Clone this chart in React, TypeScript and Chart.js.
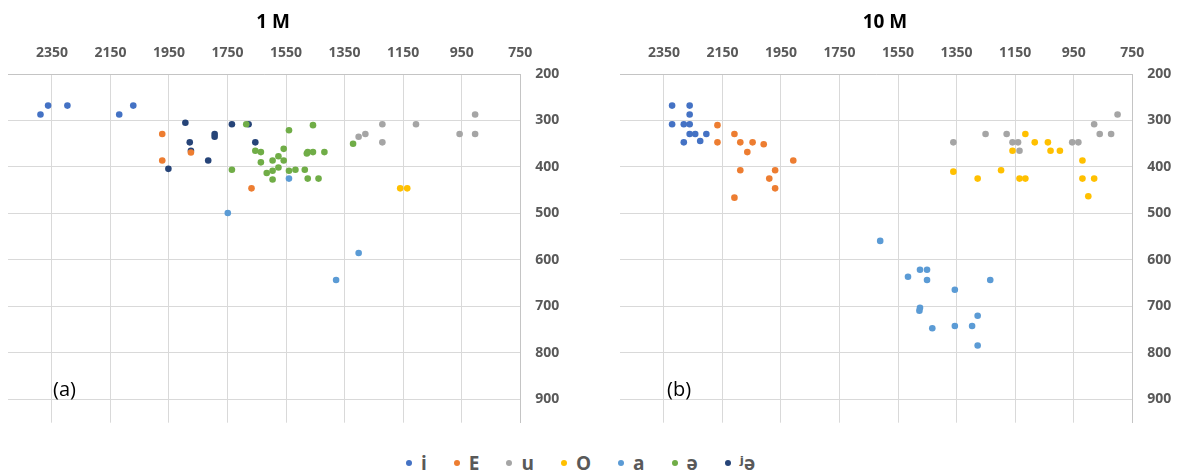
import React, { useEffect, useRef } from "react";
import { Chart, registerables } from "chart.js";

Chart.register(...registerables);

// ---- Legend / series ----
const seriesNames = ["i", "E", "u", "O", "a", "ə", "ʲə"];
const seriesColors = ["#4472C4", "#ED7D31", "#A5A5A5", "#FFC000", "#5B9BD5", "#70AD47", "#264478"];

// ---- Axis ticks ----
const xTickValues = [750, 950, 1150, 1350, 1550, 1750, 1950, 2150, 2350];
const yTickValues = [200, 300, 400, 500, 600, 700, 800, 900];
const xMin = 750;
const xMax = 2500;
const yMin = 200;
const yMax = 950;

// ---- 1 M : [F2, F1] ----
const m1_i = [[2389, 287], [2363, 268], [2297, 268], [2120, 287], [2072, 268]];
const m1_E = [[1973, 329], [1973, 386], [1875, 369], [1668, 446]];
const m1_u = [[904, 287], [1221, 308], [1106, 308], [957, 329], [904, 329], [1302, 335], [1279, 329], [1221, 347]];
const m1_O = [[1160, 446], [1136, 446]];
const m1_a = [[1749, 499], [1540, 425], [1302, 585], [1379, 643]];
const m1_schwa = [
  [1686, 308], [1458, 310], [1540, 321], [1655, 365], [1636, 368], [1558, 361], [1596, 386], [1576, 377],
  [1558, 386], [1636, 390], [1476, 368], [1458, 368], [1419, 368], [1479, 371], [1735, 406], [1616, 413],
  [1596, 408], [1576, 401], [1540, 408], [1518, 406], [1486, 406], [1596, 427], [1476, 425], [1439, 425],
  [1321, 350],
];
const m1_jschwa = [[1894, 305], [1735, 308], [1678, 308], [1794, 329], [1794, 335], [1879, 347], [1875, 365], [1655, 347], [1816, 386], [1952, 404]];

// ---- 10 M : [F2, F1] ----
const m10_i = [[2322, 268], [2262, 268], [2262, 287], [2322, 308], [2282, 308], [2262, 308], [2262, 329], [2243, 329], [2205, 329], [2282, 347], [2226, 344]];
const m10_E = [[2167, 310], [2167, 347], [2109, 329], [2089, 347], [2047, 347], [2009, 351], [2065, 368], [1908, 386], [2089, 407], [1970, 407], [1990, 425], [1970, 446], [2109, 466]];
const m10_u = [[800, 287], [880, 308], [861, 329], [822, 329], [1251, 329], [1179, 329], [1361, 347], [1159, 347], [1140, 347], [1135, 365], [955, 347], [934, 347]];
const m10_O = [[1115, 329], [1083, 347], [1038, 347], [1159, 365], [1029, 365], [997, 365], [920, 386], [1361, 410], [1278, 425], [1198, 407], [1135, 425], [1115, 425], [920, 425], [880, 425], [900, 463]];
const m10_a = [[1611, 559], [1475, 621], [1451, 621], [1516, 636], [1451, 643], [1235, 643], [1356, 664], [1475, 703], [1477, 709], [1278, 720], [1433, 747], [1356, 742], [1297, 742], [1278, 784]];
const m10_schwa: number[][] = [];
const m10_jschwa: number[][] = [];

const chart1M = [m1_i, m1_E, m1_u, m1_O, m1_a, m1_schwa, m1_jschwa];
const chart10M = [m10_i, m10_E, m10_u, m10_O, m10_a, m10_schwa, m10_jschwa];

const FONT = "'Open Sans', 'DejaVu Sans', sans-serif";

function VowelChart({ series, left, padLeft, yAxisWidth }: { series: number[][][]; left: number; padLeft: number; yAxisWidth: number }) {
  const ref = useRef<HTMLCanvasElement>(null);
  useEffect(() => {
    const chart = new Chart(ref.current as HTMLCanvasElement, {
      type: "scatter",
      data: {
        datasets: series.map((pts, k) => ({
          label: seriesNames[k],
          data: pts.map(([x, y]) => ({ x, y })),
          backgroundColor: seriesColors[k],
          borderColor: seriesColors[k],
          borderWidth: 0,
          pointRadius: 3.3,
          pointHoverRadius: 3.3,
        })),
      },
      options: {
        animation: false,
        responsive: false,
        events: [],
        layout: { padding: { left: padLeft, top: 0, right: 0, bottom: 0 } },
        plugins: {
          legend: { display: false },
          tooltip: { enabled: false },
          title: { display: false },
        },
        scales: {
          x: {
            type: "linear",
            position: "top",
            reverse: true,
            min: xMin,
            max: xMax,
            afterBuildTicks: (s: any) => {
              s.ticks = xTickValues.map((v) => ({ value: v }));
            },
            afterFit: (s: any) => {
              s.height = 74;
              s.paddingLeft = 0;
              s.paddingRight = 0;
            },
            grid: { color: "#D9D9D9", lineWidth: 1, drawTicks: false, tickLength: 0 },
            border: { display: true, color: "#C4C4C4", width: 1 },
            ticks: {
              color: "#595959",
              font: { family: FONT, size: 14, weight: "bold" },
              padding: 13,
              maxRotation: 0,
              autoSkip: false,
              callback: (v: any) => String(v),
            },
          },
          y: {
            type: "linear",
            position: "right",
            reverse: true,
            min: yMin,
            max: yMax,
            afterBuildTicks: (s: any) => {
              s.ticks = yTickValues.map((v) => ({ value: v }));
            },
            afterFit: (s: any) => {
              s.width = yAxisWidth;
              s.paddingTop = 0;
              s.paddingBottom = 0;
            },
            grid: { color: "#D9D9D9", lineWidth: 1, drawTicks: false, tickLength: 0 },
            border: { display: true, color: "#C4C4C4", width: 1 },
            ticks: {
              color: "#595959",
              font: { family: FONT, size: 14, weight: "bold" },
              padding: 15,
              autoSkip: false,
              callback: (v: any) => String(v),
            },
          },
        },
      },
    } as any);
    return () => chart.destroy();
  }, []);
  return <canvas ref={ref} width={590} height={426} style={{ position: "absolute", left, top: 0 }} />;
}

export default function App() {
  const titleStyle: React.CSSProperties = {
    position: "absolute",
    top: 21,
    transform: "translate(-50%, -50%)",
    font: `bold 19px ${FONT}`,
    color: "#000",
    whiteSpace: "nowrap",
  };
  const panelStyle: React.CSSProperties = {
    position: "absolute",
    top: 388,
    transform: "translateY(-50%)",
    font: `20px ${FONT}`,
    color: "#000",
    whiteSpace: "nowrap",
  };
  return (
    <div style={{ position: "absolute", left: 0, top: 0, width: 1180, height: 476, background: "#fff", overflow: "hidden" }}>
      <VowelChart series={chart1M} left={0} padLeft={8} yAxisWidth={69.8} />
      <VowelChart series={chart10M} left={590} padLeft={30} yAxisWidth={47.8} />
      <div style={{ ...titleStyle, left: 273 }}>1 M</div>
      <div style={{ ...titleStyle, left: 885 }}>10 M</div>
      <div style={{ ...panelStyle, left: 53 }}>(a)</div>
      <div style={{ ...panelStyle, left: 667 }}>(b)</div>
      <div
        style={{
          position: "absolute",
          left: 406,
          top: 463,
          transform: "translateY(-50%)",
          display: "flex",
          alignItems: "center",
          font: `bold 19px ${FONT}`,
          color: "#595959",
          whiteSpace: "nowrap",
        }}
      >
        {seriesNames.map((name, k) => (
          <div key={name} style={{ display: "flex", alignItems: "center", marginRight: 27 }}>
            <span style={{ width: 6, height: 6, borderRadius: 3, background: seriesColors[k], marginRight: 9, display: "inline-block" }} />
            <span>{name}</span>
          </div>
        ))}
      </div>
    </div>
  );
}
